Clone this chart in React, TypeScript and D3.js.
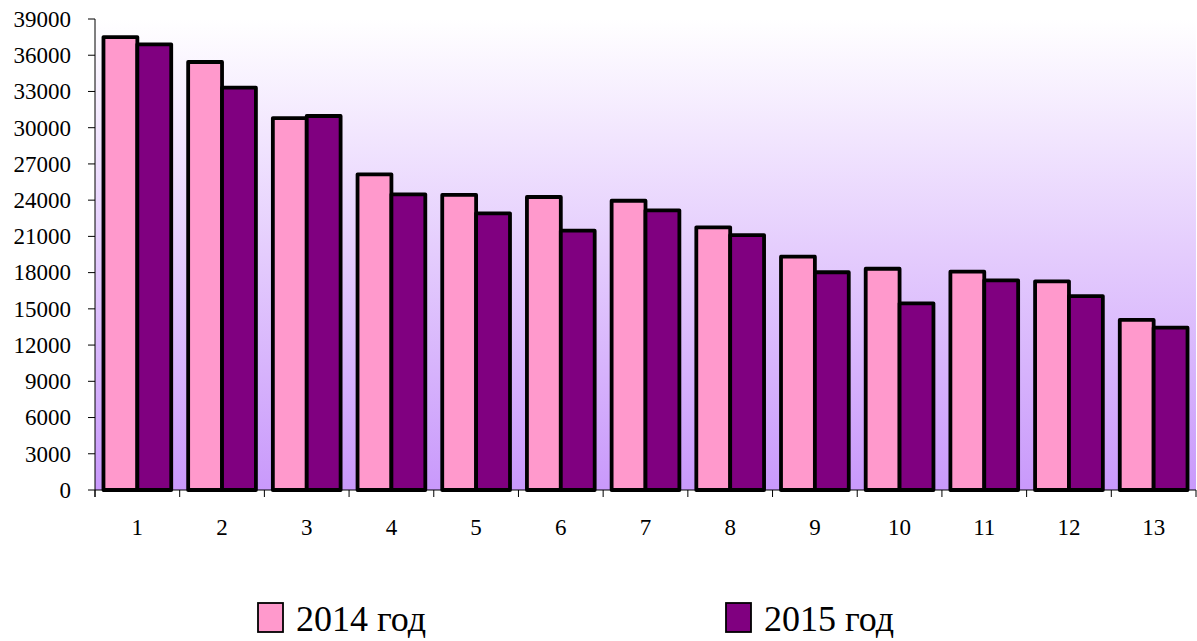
import React from 'react';
import * as d3 from 'd3';

const categories = ['1', '2', '3', '4', '5', '6', '7', '8', '9', '10', '11', '12', '13'];
const seriesNames = ['2014 год', '2015 год'];
const values2014 = [37500, 35440, 30800, 26140, 24430, 24260, 23950, 21750, 19320, 18320, 18080, 17280, 14080];
const values2015 = [36900, 33310, 30970, 24480, 22910, 21470, 23160, 21110, 18030, 15460, 17360, 16060, 13440];
const yTicks = d3.range(0, 39001, 3000);
const colors = ['#ff99cc', '#800080'];

const width = 1197;
const height = 641;
const plot = {left: 95, right: 1196, top: 19, bottom: 490};
const font = '"Liberation Serif", "Times New Roman", serif';

export default function App() {
  const x = d3.scaleBand<string>()
    .domain(categories)
    .range([plot.left, plot.right])
    .paddingInner(0.2)
    .paddingOuter(0.1);

  const xSeries = d3.scaleBand<string>()
    .domain(seriesNames)
    .range([0, x.bandwidth()]);

  const y = d3.scaleLinear()
    .domain([0, 39000])
    .range([plot.bottom, plot.top]);

  const step = x.step();
  const boundaries = d3.range(0, categories.length + 1).map(i => plot.left + i * step);
  const series = [values2014, values2015];

  return (
    <svg width={width} height={height} style={{position: 'absolute', left: 0, top: 0}}>
      <defs>
        <linearGradient id="bg" x1="0" y1="0" x2="0" y2="1">
          <stop offset="0%" stopColor="#ffffff" />
          <stop offset="100%" stopColor="#c999fb" />
        </linearGradient>
      </defs>
      <rect x={0} y={0} width={width} height={height} fill="#ffffff" />
      <rect x={plot.left} y={plot.top} width={plot.right - plot.left} height={plot.bottom - plot.top} fill="url(#bg)" />

      {series.map((vals, si) => vals.map((v, i) => (
        <rect
          key={`${si}-${i}`}
          x={(x(categories[i]) ?? 0) + (xSeries(seriesNames[si]) ?? 0)}
          y={y(v)}
          width={xSeries.bandwidth()}
          height={y(0) - y(v)}
          fill={colors[si]}
          stroke="#000"
          strokeWidth={3.8}
          strokeLinejoin="round"
        />
      )))}

      {/* y axis */}
      <line x1={plot.left} x2={plot.left} y1={plot.top} y2={plot.bottom + 7} stroke="#000" strokeWidth={1} />
      {yTicks.map(t => (
        <g key={t}>
          <line x1={plot.left - 7} x2={plot.left} y1={y(t)} y2={y(t)} stroke="#000" strokeWidth={1} />
          <text x={71} y={y(t)} dy="0.34em" textAnchor="end" fontFamily={font} fontSize={23} fill="#000">{t}</text>
        </g>
      ))}

      {/* x axis */}
      <line x1={plot.left} x2={plot.right} y1={plot.bottom} y2={plot.bottom} stroke="#000" strokeWidth={1} />
      {boundaries.map((bx, i) => (
        <line key={i} x1={bx} x2={bx} y1={plot.bottom} y2={plot.bottom + 7} stroke="#000" strokeWidth={1} />
      ))}
      {categories.map(c => (
        <text key={c} x={(x(c) ?? 0) + x.bandwidth() / 2} y={535} textAnchor="middle" fontFamily={font} fontSize={23} fill="#000">{c}</text>
      ))}

      {/* legend */}
      {seriesNames.map((name, i) => {
        const lx = i === 0 ? 258 : 726;
        return (
          <g key={name}>
            <rect x={lx} y={603} width={25} height={29} fill={colors[i]} stroke="#000" strokeWidth={1.8} />
            <text x={lx + 38} y={631} fontFamily={font} fontSize={36} fill="#000">{name}</text>
          </g>
        );
      })}
    </svg>
  );
}
